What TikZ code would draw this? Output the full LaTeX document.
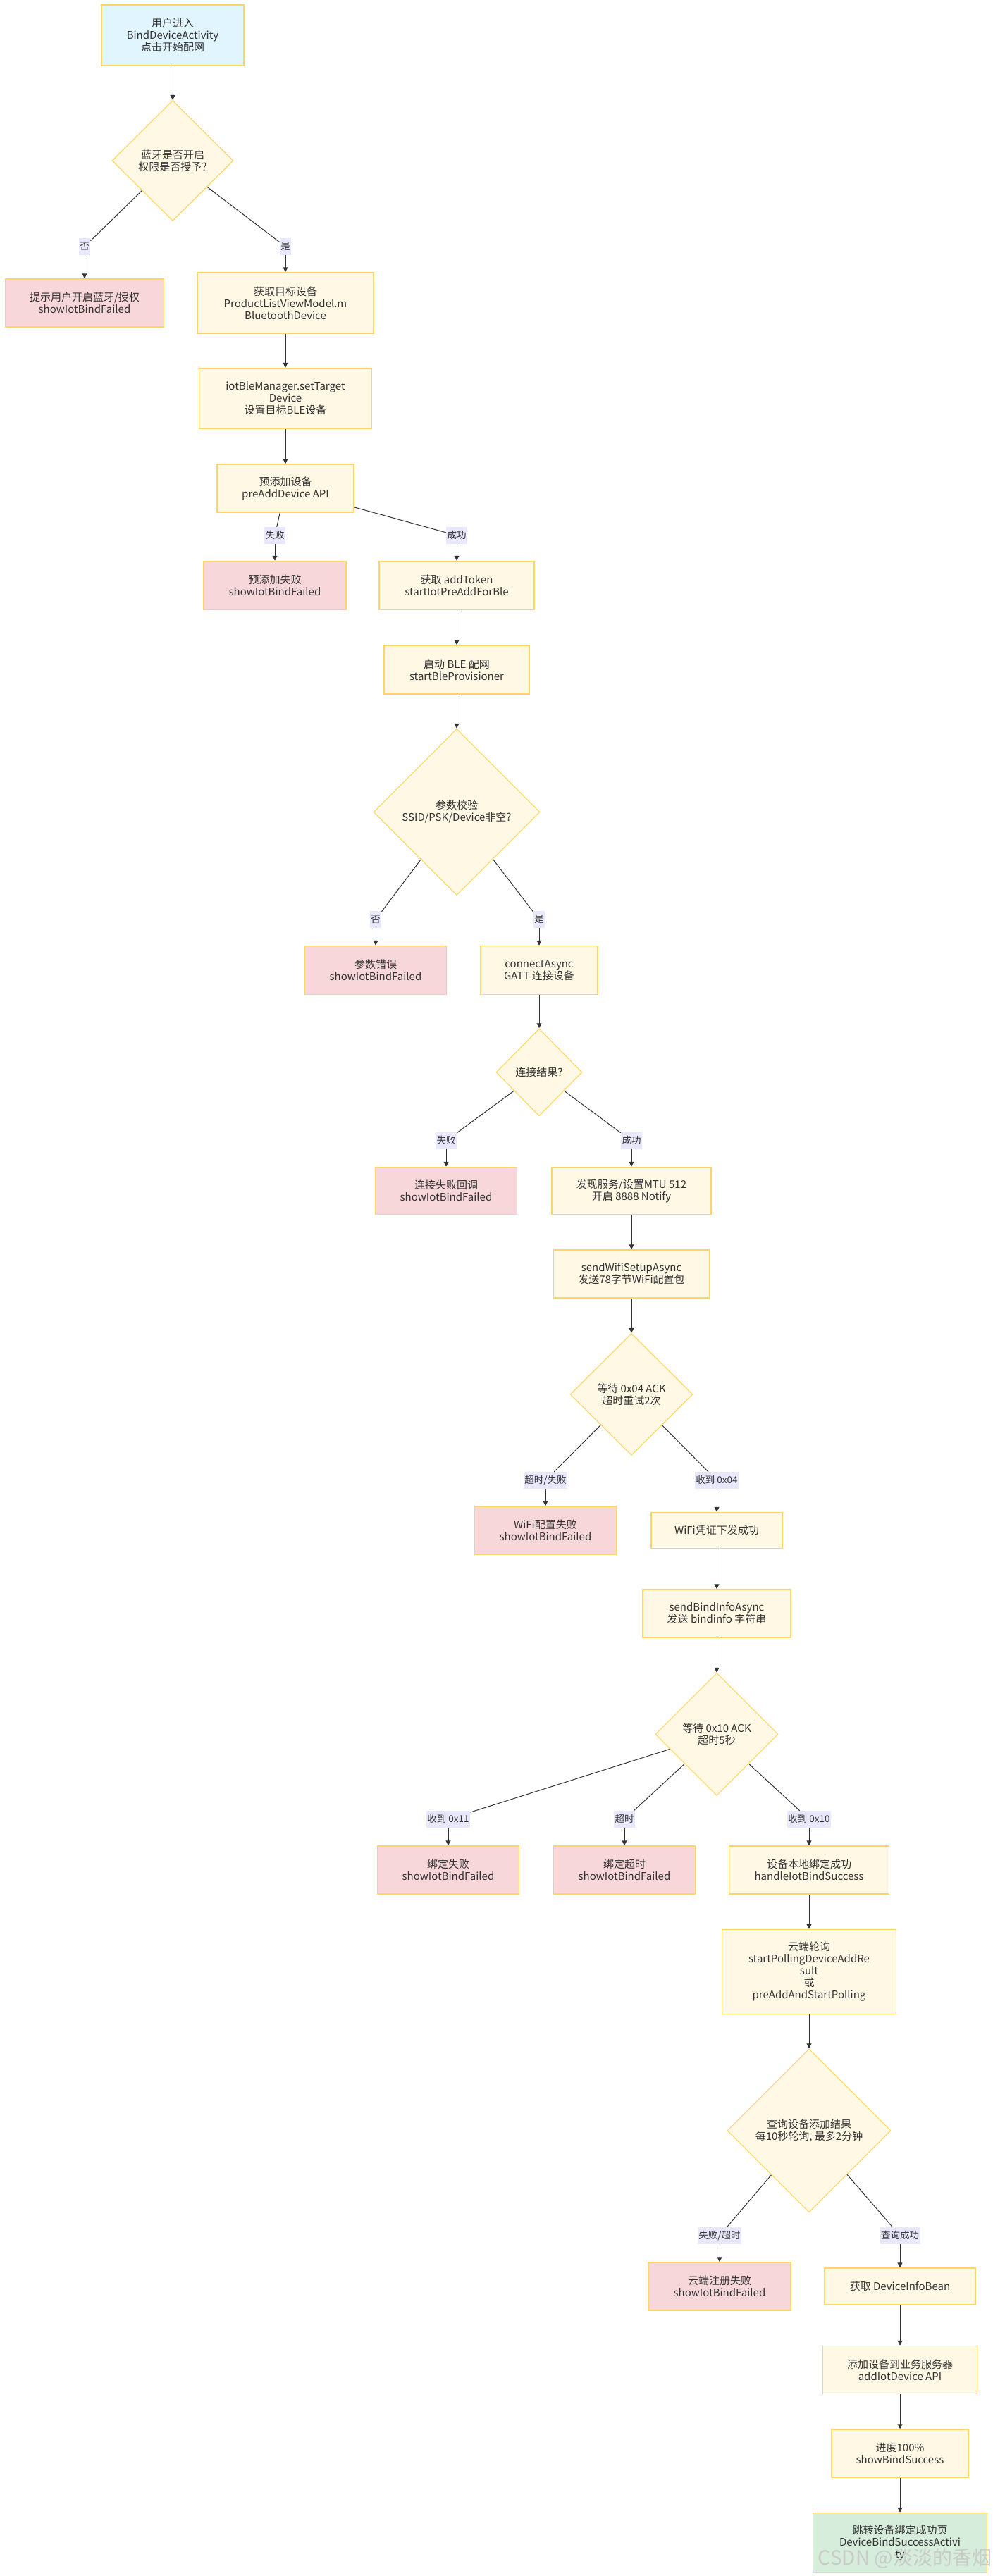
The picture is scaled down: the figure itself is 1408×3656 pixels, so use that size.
\documentclass[tikz,border=0pt]{standalone}
\usepackage{fontspec}
\setmainfont{Noto Sans CJK SC}
\usetikzlibrary{positioning}
\usetikzlibrary{shapes.geometric}
\usetikzlibrary{arrows.meta}

\definecolor{rim}{RGB}{255,214,102}
\definecolor{cream}{RGB}{255,248,228}
\definecolor{rose}{RGB}{248,215,218}
\definecolor{sky}{RGB}{225,245,254}
\definecolor{mint}{RGB}{213,237,218}
\definecolor{lav}{RGB}{232,232,252}
\definecolor{ink}{RGB}{51,51,51}
\definecolor{wire}{RGB}{51,51,51}

\tikzset{flow/.style={draw=wire, line width=1pt}}

\begin{document}
\begin{tikzpicture}[x=1pt, y=-1pt, >={Triangle[length=7pt, width=7pt]},
  every node/.style={font=\fontsize{15}{17}\selectfont, text=ink},
  box/.style={draw=rim, line width=1.5pt, fill=cream, rectangle, align=center, inner sep=2pt},
  failbox/.style={box, fill=rose},
  startbox/.style={box, fill=sky},
  donebox/.style={box, fill=mint},
  decide/.style={draw=rim, line width=1.2pt, fill=cream, diamond, align=center, inner sep=0pt},
  wh/.style 2 args={minimum width=#1pt, minimum height=#2pt},
  lbl/.style={fill=lav, inner xsep=1.5pt, inner ysep=5pt, text height=11pt, text depth=3pt, font=\fontsize{13.5}{15}\selectfont}]
\useasboundingbox (0,0) rectangle (1408,3656);

\node[startbox, wh={202}{86}] (Start) at (245,50) {用户进入\\BindDeviceActivity\\点击开始配网};
\node[decide, wh={172}{171}] (BT) at (245,228) {蓝牙是否开启\\权限是否授予?};
\draw[flow, ->] (Start.south) -- (BT.north);
\node[failbox, wh={225}{68}] (BTFail) at (120,430) {提示用户开启蓝牙/授权\\showIotBindFailed};
\node[box, wh={250}{86}] (GetDev) at (405,430) {获取目标设备\\ProductListViewModel.m\\BluetoothDevice};
\node[lbl] (L1) at (120,350) {否};
\node[lbl] (L2) at (405,350) {是};
\draw[flow] (BT) -- (L1);
\draw[flow, ->] (L1) -- (BTFail);
\draw[flow] (BT) -- (L2);
\draw[flow, ->] (L2) -- (GetDev);
\node[box, wh={245}{86}] (SetTgt) [below=48pt of GetDev] {iotBleManager.setTarget\\Device\\设置目标BLE设备};
\draw[flow, ->] (GetDev.south) -- (SetTgt.north);
\node[box, wh={194}{68}] (PreAdd) [below=49pt of SetTgt] {预添加设备\\preAddDevice API};
\draw[flow, ->] (SetTgt.south) -- (PreAdd.north);
\node[failbox, wh={202}{69}] (PreFail) at (390,831) {预添加失败\\showIotBindFailed};
\node[box, wh={220}{69}] (Token) at (648,831) {获取 addToken\\startIotPreAddForBle};
\node[lbl] (L3) at (390,760) {失败};
\node[lbl] (L4) at (648,760) {成功};
\draw[flow] (PreAdd) -- (L3);
\draw[flow, ->] (L3) -- (PreFail);
\draw[flow] (PreAdd) -- (L4);
\draw[flow, ->] (L4) -- (Token);
\node[box, wh={206}{69}] (BLE) [below=49pt of Token] {启动 BLE 配网\\startBleProvisioner};
\draw[flow, ->] (Token.south) -- (BLE.north);
\node[decide, wh={236}{236}] (Param) [below=48pt of BLE] {参数校验\\SSID/PSK/Device非空?};
\draw[flow, ->] (BLE.south) -- (Param.north);
\node[failbox, wh={201}{69}] (ParamErr) at (533,1377) {参数错误\\showIotBindFailed};
\node[box, wh={166}{69}] (Conn) at (765,1377) {connectAsync\\GATT 连接设备};
\node[lbl] (L5) at (533,1305) {否};
\node[lbl] (L6) at (765,1305) {是};
\draw[flow] (Param) -- (L5);
\draw[flow, ->] (L5) -- (ParamErr);
\draw[flow] (Param) -- (L6);
\draw[flow, ->] (L6) -- (Conn);
\node[decide, wh={122}{124}] (ConnRes) [below=47pt of Conn] {连接结果?};
\draw[flow, ->] (Conn.south) -- (ConnRes.north);
\node[failbox, wh={201}{67}] (ConnFail) at (633,1690) {连接失败回调\\showIotBindFailed};
\node[box, wh={226}{67}] (Disc) at (896,1690) {发现服务/设置MTU 512\\开启 8888 Notify};
\node[lbl] (L7) at (633,1619) {失败};
\node[lbl] (L8) at (896,1619) {成功};
\draw[flow] (ConnRes) -- (L7);
\draw[flow, ->] (L7) -- (ConnFail);
\draw[flow] (ConnRes) -- (L8);
\draw[flow, ->] (L8) -- (Disc);
\node[box, wh={221}{68}] (SendWifi) [below=49pt of Disc] {sendWifiSetupAsync\\发送78字节WiFi配置包};
\draw[flow, ->] (Disc.south) -- (SendWifi.north);
\node[decide, wh={174}{173}] (Ack4) [below=49pt of SendWifi] {等待 0x04 ACK\\超时重试2次};
\draw[flow, ->] (SendWifi.south) -- (Ack4.north);
\node[failbox, wh={201}{68}] (WifiFail) at (774,2172) {WiFi配置失败\\showIotBindFailed};
\node[box, wh={186}{51}] (WifiOK) at (1017,2172) {WiFi凭证下发成功};
\node[lbl] (L9) at (774,2101) {超时/失败};
\node[lbl] (L10) at (1017,2101) {收到 0x04};
\draw[flow] (Ack4) -- (L9);
\draw[flow, ->] (L9) -- (WifiFail);
\draw[flow] (Ack4) -- (L10);
\draw[flow, ->] (L10) -- (WifiOK);
\node[box, wh={210}{68}] (SendBind) [below=57pt of WifiOK] {sendBindInfoAsync\\发送 bindinfo 字符串};
\draw[flow, ->] (WifiOK.south) -- (SendBind.north);
\node[decide, wh={174}{174}] (Ack10) [below=49pt of SendBind] {等待 0x10 ACK\\超时5秒};
\draw[flow, ->] (SendBind.south) -- (Ack10.north);
\node[failbox, wh={201}{68}] (BindFail) at (636,2654) {绑定失败\\showIotBindFailed};
\node[failbox, wh={201}{68}] (BindTO) at (886,2654) {绑定超时\\showIotBindFailed};
\node[box, wh={227}{68}] (BindOK) at (1148,2654) {设备本地绑定成功\\handleIotBindSuccess};
\node[lbl] (L11) at (636,2582) {收到 0x11};
\node[lbl] (L12) at (886,2582) {超时};
\node[lbl] (L13) at (1148,2582) {收到 0x10};
\draw[flow] (Ack10) -- (L11);
\draw[flow, ->] (L11) -- (BindFail);
\draw[flow] (Ack10) -- (L12);
\draw[flow, ->] (L12) -- (BindTO);
\draw[flow] (Ack10) -- (L13);
\draw[flow, ->] (L13) -- (BindOK);
\node[box, wh={247}{120}] (Poll) [below=49pt of BindOK] {云端轮询\\startPollingDeviceAddRe\\sult\\或\\preAddAndStartPolling};
\draw[flow, ->] (BindOK.south) -- (Poll.north);
\node[decide, wh={232}{232}] (Query) [below=48pt of Poll] {查询设备添加结果\\每10秒轮询, 最多2分钟};
\draw[flow, ->] (Poll.south) -- (Query.north);
\node[failbox, wh={202}{68}] (CloudFail) at (1021,3245) {云端注册失败\\showIotBindFailed};
\node[box, wh={214}{52}] (Info) at (1277,3245) {获取 DeviceInfoBean};
\node[lbl] (L14) at (1021,3173) {失败/超时};
\node[lbl] (L15) at (1277,3173) {查询成功};
\draw[flow] (Query) -- (L14);
\draw[flow, ->] (L14) -- (CloudFail);
\draw[flow] (Query) -- (L15);
\draw[flow, ->] (L15) -- (Info);
\node[box, wh={219}{68}] (AddIot) [below=57pt of Info] {添加设备到业务服务器\\addIotDevice API};
\draw[flow, ->] (Info.south) -- (AddIot.north);
\node[box, wh={194}{68}] (Prog) [below=49pt of AddIot] {进度100\%\\showBindSuccess};
\draw[flow, ->] (AddIot.south) -- (Prog.north);
\node[donebox, wh={247}{85}] (Done) [below=49pt of Prog] {跳转设备绑定成功页\\DeviceBindSuccessActivi\\ty};
\draw[flow, ->] (Prog.south) -- (Done.north);

\node[text=gray!45, opacity=0.85, font=\fontsize{28}{30}\selectfont] (Mark) at (1284,3631) {CSDN @淡淡的香烟};
\end{tikzpicture}
\end{document}
